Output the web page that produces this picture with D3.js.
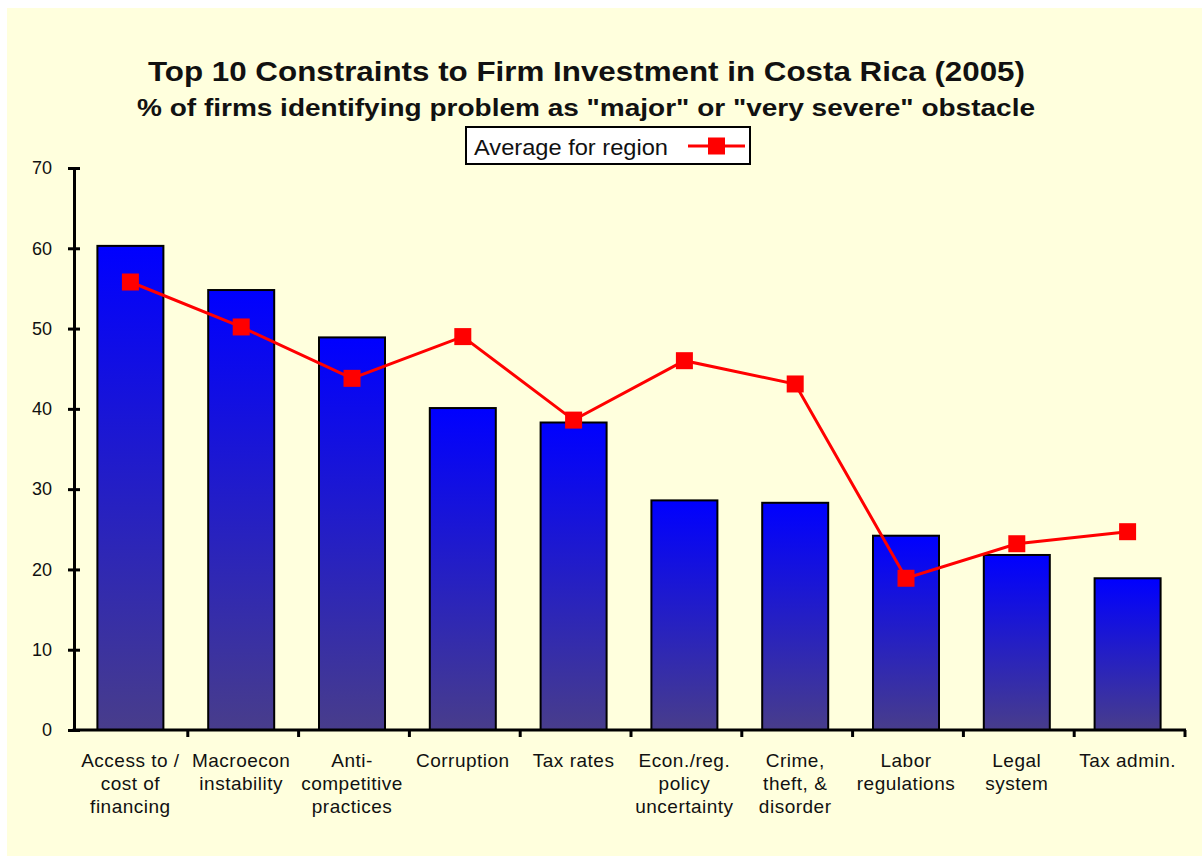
<!DOCTYPE html>
<html>
<head>
<meta charset="utf-8">
<script src="https://cdn.jsdelivr.net/npm/d3@7"></script>
<style>
  body { margin: 0; background: #fff; }
  svg { display: block; }
  text { font-family: "Liberation Sans", Arial, sans-serif; fill: #111; }
</style>
</head>
<body>
<svg></svg>
<script>
var WIDTH = 1202;
var HEIGHT = 856;

// data
var categories = [
  ['Access to /', 'cost of', 'financing'],
  ['Macroecon', 'instability'],
  ['Anti-', 'competitive', 'practices'],
  ['Corruption'],
  ['Tax rates'],
  ['Econ./reg.', 'policy', 'uncertainty'],
  ['Crime,', 'theft, &', 'disorder'],
  ['Labor', 'regulations'],
  ['Legal', 'system'],
  ['Tax admin.']
];
var costaRica = [60.3, 54.8, 48.9, 40.1, 38.3, 28.6, 28.3, 24.2, 21.8, 18.9];
var regionAvg = [55.8, 50.2, 43.8, 49.0, 38.6, 46.0, 43.1, 18.9, 23.2, 24.7];
var yTicks = [0, 10, 20, 30, 40, 50, 60, 70];

var svg = d3.select('svg')
  .attr('width', WIDTH)
  .attr('height', HEIGHT);

// cream panel
svg.append('rect')
  .attr('x', 7).attr('y', 8)
  .attr('width', WIDTH - 7).attr('height', HEIGHT - 8)
  .attr('fill', '#ffffdd');

var defs = svg.append('defs');
var grad = defs.append('linearGradient')
  .attr('id', 'barGrad')
  .attr('x1', 0).attr('y1', 0).attr('x2', 0).attr('y2', 1);
grad.append('stop').attr('offset', '0%').attr('stop-color', '#0000ff');
grad.append('stop').attr('offset', '100%').attr('stop-color', '#483d8b');

var xScale = d3.scaleBand()
  .domain(d3.range(categories.length))
  .range([77, 1185]);

var yScale = d3.scaleLinear()
  .domain([0, 70])
  .range([730, 168]);

// titles (stretched a bit, the original face is wider)
svg.append('text')
  .attr('x', 148).attr('y', 81)
  .attr('textLength', 877)
  .attr('lengthAdjust', 'spacingAndGlyphs')
  .style('font-weight', 'bold')
  .style('font-size', '28px')
  .text('Top 10 Constraints to Firm Investment in Costa Rica (2005)');

svg.append('text')
  .attr('x', 137).attr('y', 116)
  .attr('textLength', 898)
  .attr('lengthAdjust', 'spacingAndGlyphs')
  .style('font-weight', 'bold')
  .style('font-size', '24px')
  .text('% of firms identifying problem as "major" or "very severe" obstacle');

// bars
var barW = 66;
svg.append('g').selectAll('rect')
  .data(costaRica)
  .enter()
  .append('rect')
  .attr('x', function(d, i){ return xScale(i) + xScale.bandwidth() / 2 - barW / 2 - 2; })
  .attr('y', function(d){ return yScale(d); })
  .attr('width', barW)
  .attr('height', function(d){ return yScale(0) - yScale(d); })
  .attr('fill', 'url(#barGrad)')
  .attr('stroke', '#000')
  .attr('stroke-width', 2);

// y axis
var leftAxis = d3.axisLeft(yScale)
  .tickValues(yTicks)
  .tickSizeInner(6)
  .tickSizeOuter(0)
  .tickPadding(16);
var yAx = svg.append('g')
  .attr('transform', 'translate(74,0)')
  .call(leftAxis);
yAx.select('.domain').attr('stroke', '#000').attr('stroke-width', 3);
yAx.selectAll('.tick line')
  .attr('x1', -6).attr('x2', 6)
  .attr('stroke', '#000').attr('stroke-width', 3);
yAx.selectAll('.tick text')
  .style('font-size', '18px')
  .style('font-family', '"Liberation Sans", Arial, sans-serif')
  .attr('fill', '#111');

// x axis
var xAx = svg.append('g');
xAx.append('line')
  .attr('x1', 72.5).attr('x2', 1186)
  .attr('y1', yScale(0)).attr('y2', yScale(0))
  .attr('stroke', '#000').attr('stroke-width', 3);
var bounds = d3.range(1, categories.length + 1);
xAx.selectAll('line.tick')
  .data(bounds)
  .enter()
  .append('line')
  .attr('class', 'tick')
  .attr('x1', function(d){ return xScale(0) + d * xScale.step(); })
  .attr('x2', function(d){ return xScale(0) + d * xScale.step(); })
  .attr('y1', yScale(0))
  .attr('y2', yScale(0) + 7)
  .attr('stroke', '#000').attr('stroke-width', 3);

var labels = xAx.selectAll('text.cat')
  .data(categories)
  .enter()
  .append('text')
  .attr('class', 'cat')
  .attr('text-anchor', 'middle')
  .style('font-size', '19px')
  .style('letter-spacing', '0.5px')
  .attr('transform', function(d, i){
    return 'translate(' + (xScale(i) + xScale.bandwidth() / 2 - 2) + ',767)';
  });
labels.selectAll('tspan')
  .data(function(d){ return d; })
  .enter()
  .append('tspan')
  .attr('x', 0)
  .attr('dy', function(d, i){ return i === 0 ? 0 : 23; })
  .text(function(d){ return d; });

// region average line
var line = d3.line()
  .x(function(d, i){ return xScale(i) + xScale.bandwidth() / 2 - 2; })
  .y(function(d){ return yScale(d); });

svg.append('path')
  .datum(regionAvg)
  .attr('d', line)
  .attr('fill', 'none')
  .attr('stroke', '#ff0000')
  .attr('stroke-width', 3);

var mk = 17;
svg.append('g').selectAll('rect')
  .data(regionAvg)
  .enter()
  .append('rect')
  .attr('x', function(d, i){ return xScale(i) + xScale.bandwidth() / 2 - 2 - mk / 2; })
  .attr('y', function(d){ return yScale(d) - mk / 2; })
  .attr('width', mk)
  .attr('height', mk)
  .attr('fill', '#ff0000');

// legend
var legend = svg.append('g');
legend.append('rect')
  .attr('x', 466).attr('y', 127)
  .attr('width', 284).attr('height', 37)
  .attr('fill', '#fff')
  .attr('stroke', '#000')
  .attr('stroke-width', 2);
legend.append('text')
  .attr('x', 474).attr('y', 155)
  .attr('textLength', 194)
  .attr('lengthAdjust', 'spacingAndGlyphs')
  .style('font-size', '22px')
  .text('Average for region');
legend.append('line')
  .attr('x1', 688).attr('x2', 745)
  .attr('y1', 146).attr('y2', 146)
  .attr('stroke', '#ff0000')
  .attr('stroke-width', 3);
legend.append('rect')
  .attr('x', 708).attr('y', 137.5)
  .attr('width', 17).attr('height', 17)
  .attr('fill', '#ff0000');
</script>
</body>
</html>
